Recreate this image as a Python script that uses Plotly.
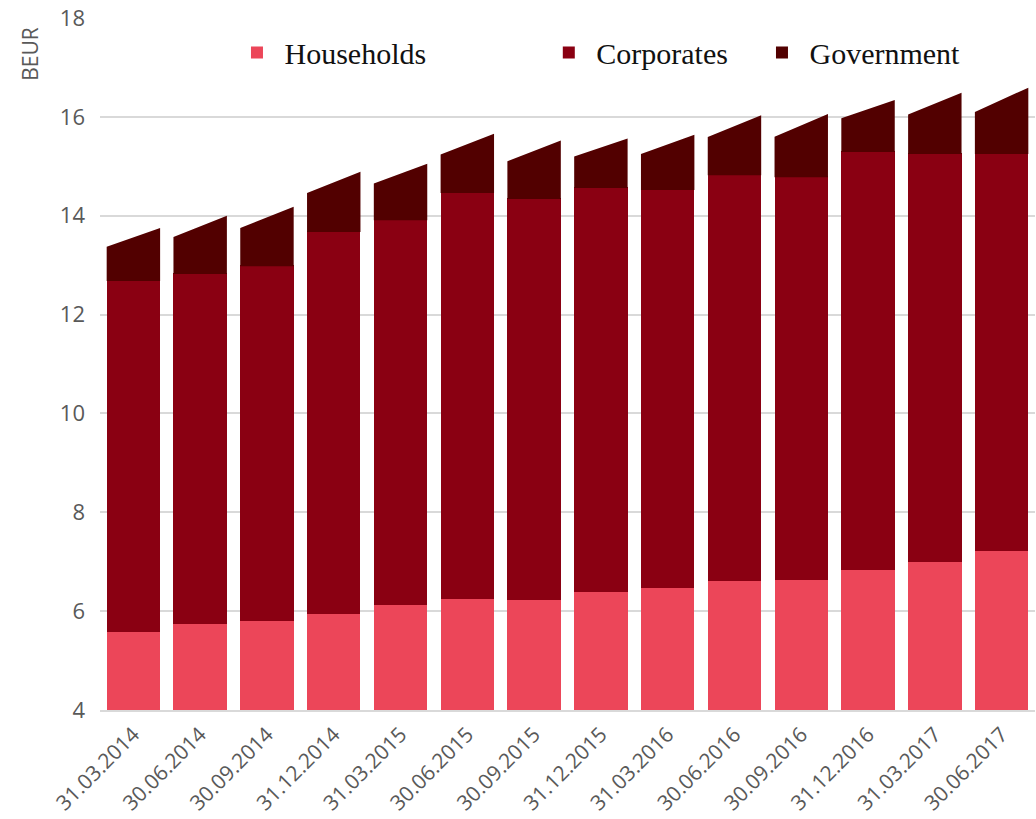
import plotly.graph_objects as go

dates = ["31.03.2014", "30.06.2014", "30.09.2014", "31.12.2014", "31.03.2015",
         "30.06.2015", "30.09.2015", "31.12.2015", "31.03.2016", "30.06.2016",
         "30.09.2016", "31.12.2016", "31.03.2017", "30.06.2017"]
households = [5.58, 5.74, 5.80, 5.94, 6.12, 6.25, 6.23, 6.39, 6.47, 6.61, 6.63, 6.83, 6.99, 7.22]
corporates = [7.12, 7.10, 7.20, 7.75, 7.81, 8.23, 8.13, 8.19, 8.07, 8.23, 8.17, 8.48, 8.28, 8.05]
# government segment height at the left and right edge of each (slanted) bar
government_left = [0.67, 0.73, 0.75, 0.77, 0.72, 0.76, 0.74, 0.62, 0.71, 0.75, 0.80, 0.66, 0.78, 0.83]
government_right = [1.05, 1.16, 1.18, 1.20, 1.12, 1.18, 1.16, 0.98, 1.10, 1.19, 1.26, 1.03, 1.22, 1.32]

C_HH = "#EC4659"
C_CORP = "#8A0012"
C_GOV = "#520000"
W = 0.8
OVERLAP = 0.02  # hides the anti-aliasing seam under the polygon

xs = list(range(len(dates)))
fig = go.Figure()
fig.add_trace(go.Bar(x=xs, y=households, name="\u00a0Households", marker_color=C_HH,
                     marker_line_width=0, width=W, legend="legend"))
fig.add_trace(go.Bar(x=xs, y=corporates, name="\u00a0Corporates", marker_color=C_CORP,
                     marker_line_width=0, width=W, legend="legend2"))

px, py = [], []
for i, (h, c, gl, gr) in enumerate(zip(households, corporates, government_left, government_right)):
    base = h + c
    px += [i - W / 2, i - W / 2, i + W / 2, i + W / 2, None]
    py += [base - OVERLAP, base + gl, base + gr, base - OVERLAP, None]
fig.add_trace(go.Scatter(x=px, y=py, fill="toself", mode="lines", line=dict(width=0, color=C_GOV),
                         fillcolor=C_GOV, showlegend=False, hoverinfo="skip"))
fig.add_trace(go.Bar(x=[None], y=[None], name="\u00a0Government", marker_color=C_GOV,
                     marker_line_width=0, legend="legend3"))

lg = dict(orientation="h", yanchor="middle", y=0.95, xanchor="left", bgcolor="rgba(0,0,0,0)",
          font=dict(family="Liberation Serif", size=30, color="#111111"))
fig.update_layout(
    barmode="stack",
    width=1036, height=819,
    margin=dict(l=100, r=1, t=18, b=109, autoexpand=False),
    plot_bgcolor="white", paper_bgcolor="white",
    legend=dict(lg, x=0.1465),
    legend2=dict(lg, x=0.480),
    legend3=dict(lg, x=0.708),
    xaxis=dict(range=[-0.5, 13.5], tickvals=xs, ticktext=dates, tickangle=-45,
               showgrid=False, showline=True, linecolor="#d9d9d9", linewidth=2,
               ticks="", ticklabelstandoff=2, automargin=False,
               tickfont=dict(family="Open Sans", size=21, color="#595959")),
    yaxis=dict(range=[4, 18], dtick=2, showgrid=True, gridcolor="#d9d9d9", gridwidth=1.5,
               zeroline=False, ticklabelstandoff=14, automargin=False,
               tickfont=dict(family="Open Sans", size=22, color="#595959")),
    annotations=[dict(text="BEUR", textangle=-90, xref="paper", yref="paper", x=-0.075, y=0.948,
                      xanchor="center", yanchor="middle", showarrow=False,
                      font=dict(family="Open Sans", size=21, color="#595959"))],
)
fig.write_html("out.html")
